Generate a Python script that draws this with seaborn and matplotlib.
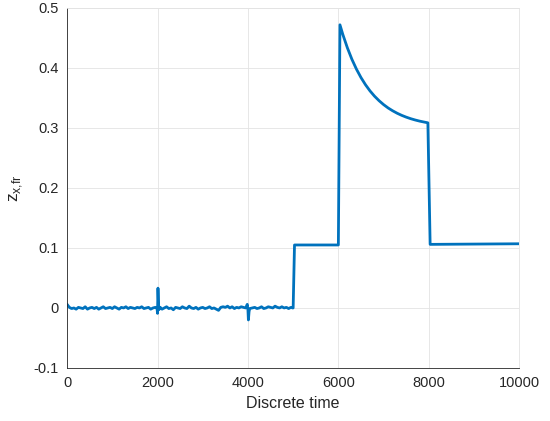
import matplotlib
matplotlib.use('Agg')
import matplotlib.pyplot as plt
import seaborn as sns
import pandas as pd

# Отсчеты дискретного времени и значения z_x,fr
t_noise = [0, 50, 100, 150, 200, 250, 300, 350, 400, 450, 500, 550, 600, 650, 700, 750, 800, 850, 900, 950,
           1000, 1050, 1100, 1150, 1200, 1250, 1300, 1350, 1400, 1450, 1500, 1550, 1600, 1650, 1700, 1750,
           1800, 1850, 1900, 1950, 1990, 2000, 2010, 2020, 2030, 2060, 2100, 2150, 2200, 2250, 2300, 2350,
           2400, 2450, 2500, 2550, 2600, 2650, 2700, 2750, 2800, 2850, 2900, 2950, 3000, 3050, 3100, 3150,
           3200, 3250, 3300, 3350, 3400, 3450, 3500, 3550, 3600, 3650, 3700, 3750, 3800, 3850, 3900, 3950,
           3985, 4000, 4010, 4025, 4040, 4100, 4150, 4200, 4250, 4300, 4350, 4400, 4450, 4500, 4550, 4600,
           4650, 4700, 4750, 4800, 4850, 4900, 4950, 4990]
z_noise = [6, 1, -1, 0, -2, 1, 0, -1, 2, -2, 0, 1, -1, 1, -2, 0, 2, -1, 0, 1,
           -1, 2, 0, -2, 1, 0, 2, -1, 1, 0, -1, 1, 0, 2, -1, 0,
           1, -2, 0, 1, -1, -9, 33, 12, -3, 1, -2, 0, 2, -1, 0, -3,
           1, 0, -1, 2, 0, -1, 3, 0, -1, 1, -2, 0, 1, -1, 0, 2,
           -1, 0, -2, -4, 1, 2, 1, 3, 0, 2, -1, 1, 0, 2, 1, 0,
           6, -3, -20, -6, -1, 0, 1, -1, 0, 2, -1, 0, 2, 1, 0, 3,
           1, 0, 2, 0, 1, -1, 1, 0]  # x 1e-3

t_steps = [5000, 5030, 6000, 6035, 6100, 6200, 6300, 6400, 6500, 6600, 6700, 6800, 6900, 7000, 7100, 7200,
           7300, 7400, 7500, 7600, 7700, 7800, 7900, 7980, 8030, 10000]
z_steps = [0.0, 0.105, 0.105, 0.472, 0.4556, 0.4335, 0.4144, 0.3981, 0.3841, 0.3721, 0.3618, 0.3530,
           0.3455, 0.3390, 0.3334, 0.3287, 0.3246, 0.3211, 0.3181, 0.3155, 0.3133, 0.3114, 0.3098, 0.3086,
           0.106, 0.107]

df = pd.DataFrame({
    't': t_noise + t_steps,
    'z': [v / 1000 for v in z_noise] + z_steps,
})

sns.set_style('white')
plt.rcParams['font.family'] = ['Liberation Sans', 'DejaVu Sans']
plt.rcParams['mathtext.fontset'] = 'custom'
plt.rcParams['mathtext.rm'] = 'Liberation Sans'

fig = plt.figure(figsize=(5.5, 4.21), dpi=100)
ax = fig.add_axes([0.122, 0.126, 0.822, 0.855])

sns.lineplot(data=df, x='t', y='z', ax=ax, color='#0072BD', linewidth=2,
             estimator=None, sort=False)

ax.set_xlim(0, 10000)
ax.set_ylim(-0.1, 0.5)
ax.set_xticks([0, 2000, 4000, 6000, 8000, 10000])
ax.set_yticks([-0.1, 0, 0.1, 0.2, 0.3, 0.4, 0.5])
ax.set_yticklabels(['-0.1', '0', '0.1', '0.2', '0.3', '0.4', '0.5'])
ax.grid(True, color='#e3e3e3', linewidth=0.6)
ax.set_axisbelow(True)
for side in ['left', 'bottom']:
    ax.spines[side].set_color('#262626')
    ax.spines[side].set_linewidth(0.6)
for side in ['top', 'right']:
    ax.spines[side].set_color('#e3e3e3')
    ax.spines[side].set_linewidth(0.6)
ax.tick_params(direction='in', length=3, width=0.6, colors='#262626', labelsize=10.5,
               pad=6, labelcolor='#262626')
ax.set_xlabel('Discrete time', fontsize=11.5, color='#262626', labelpad=4)
ax.set_ylabel(r'z$_{\mathrm{x{,}fr}}$', fontsize=12.5, color='#262626', labelpad=6)

fig.savefig('out.png', dpi=100)
